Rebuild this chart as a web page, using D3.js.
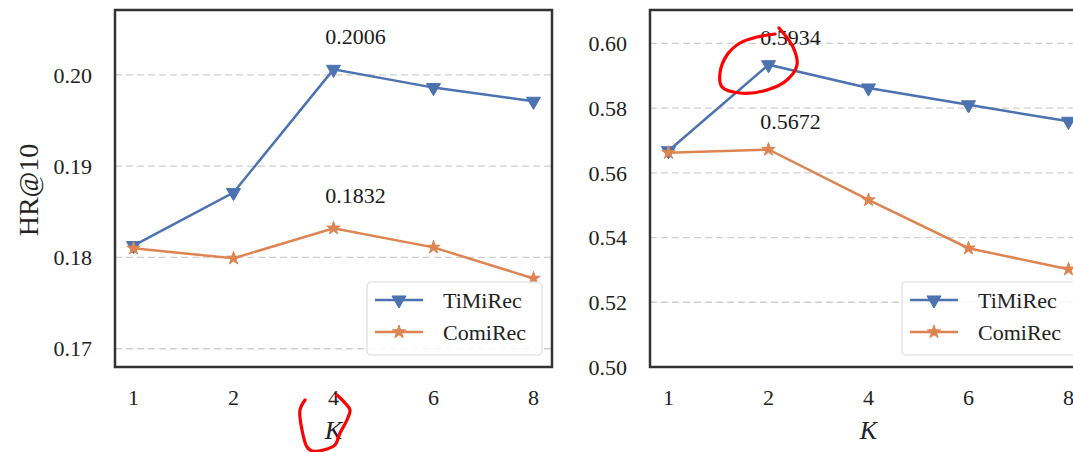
<!DOCTYPE html>
<html>
<head>
<meta charset="utf-8">
<script src="https://cdn.jsdelivr.net/npm/d3@7"></script>
<style>
  body { margin: 0; background: #fff; }
  svg { display: block; }
</style>
</head>
<body>
<svg id="chart" width="1073" height="452"></svg>
<script>
// values
const kValues = ["1", "2", "4", "6", "8"]
const seriesNames = ["TiMiRec", "ComiRec"]

const leftTiMiRec = [0.1813, 0.1871, 0.2006, 0.1986, 0.1971]
const leftComiRec = [0.1810, 0.1799, 0.1832, 0.1811, 0.1777]
const leftTicks = [0.17, 0.18, 0.19, 0.20]
const leftLabels = [{series: 0, k: "4", text: "0.2006"}, {series: 1, k: "4", text: "0.1832"}]

const rightTiMiRec = [0.5668, 0.5934, 0.5862, 0.5810, 0.5759]
const rightComiRec = [0.5662, 0.5672, 0.5516, 0.5367, 0.5302]
const rightTicks = [0.50, 0.52, 0.54, 0.56, 0.58, 0.60]
const rightLabels = [{series: 0, k: "2", text: "0.5934"}, {series: 1, k: "2", text: "0.5672"}]

const colors = ["#4c72b0", "#dd8452"]
const serif = "'Liberation Serif', 'Times New Roman', serif"

const svg = d3.select("#chart")

const panels = [
    {left: 115, domain: [0.168, 0.2071], ticks: leftTicks, series: [leftTiMiRec, leftComiRec],
     labels: leftLabels, labelOffset: 25, ylabel: "HR@10"},
    {left: 650, domain: [0.50, 0.6103], ticks: rightTicks, series: [rightTiMiRec, rightComiRec],
     labels: rightLabels, labelOffset: 20, ylabel: null}
]

const frameTop = 10, frameBottom = 367, panelWidth = 437

const triangleDown = d3.symbol().type(d3.symbolTriangle).size(85)
const star = d3.symbol().type(d3.symbolStar).size(55)

panels.forEach(p => {
    const xScale = d3.scalePoint().domain(kValues).range([p.left, p.left + panelWidth]).padding(0.185)
    const yScale = d3.scaleLinear().domain(p.domain).range([frameBottom, frameTop])

    const g = svg.append("g")

    // grid
    g.selectAll(".grid")
        .data(p.ticks)
        .enter().append("line")
        .attr("x1", p.left).attr("x2", p.left + panelWidth)
        .attr("y1", d => yScale(d)).attr("y2", d => yScale(d))
        .style("stroke", "#cfcfcf")
        .style("stroke-width", 1.3)
        .style("stroke-dasharray", "7,4")

    // lines + markers
    p.series.forEach((vals, si) => {
        const pts = vals.map((v, i) => ({k: kValues[i], v: v}))
        const line = d3.line().x(d => xScale(d.k)).y(d => yScale(d.v))
        g.append("path")
            .datum(pts)
            .attr("d", line)
            .style("fill", "none")
            .style("stroke", colors[si])
            .style("stroke-width", 2.5)
        g.selectAll(".m" + si)
            .data(pts)
            .enter().append("path")
            .attr("transform", d => si == 0
                ? `translate(${xScale(d.k)},${yScale(d.v)}) rotate(180)`
                : `translate(${xScale(d.k)},${yScale(d.v)})`)
            .attr("d", si == 0 ? triangleDown : star)
            .style("fill", colors[si])
            .style("stroke", colors[si])
            .style("stroke-width", 1)
    })

    // value labels
    p.labels.forEach(l => {
        const v = p.series[l.series][kValues.indexOf(l.k)]
        g.append("text")
            .attr("x", xScale(l.k) + 22)
            .attr("y", yScale(v) - p.labelOffset)
            .attr("text-anchor", "middle")
            .style("font-family", serif)
            .style("font-size", "22px")
            .style("fill", "#1a1a1a")
            .text(l.text)
    })

    // y tick labels
    g.selectAll(".ytick")
        .data(p.ticks)
        .enter().append("text")
        .attr("x", p.left - 23)
        .attr("y", d => yScale(d))
        .attr("dy", "0.35em")
        .attr("text-anchor", "end")
        .style("font-family", serif)
        .style("font-size", "22px")
        .style("fill", "#222")
        .text(d => d3.format(".2f")(d))

    // x tick labels
    g.selectAll(".xtick")
        .data(kValues)
        .enter().append("text")
        .attr("x", d => xScale(d))
        .attr("y", 405)
        .attr("text-anchor", "middle")
        .style("font-family", serif)
        .style("font-size", "22px")
        .style("fill", "#222")
        .text(d => d)

    // x label
    g.append("text")
        .attr("x", xScale("4"))
        .attr("y", 439)
        .attr("text-anchor", "middle")
        .style("font-family", serif)
        .style("font-style", "italic")
        .style("font-size", "26px")
        .style("fill", "#222")
        .text("K")

    if (p.ylabel) {
        g.append("text")
            .attr("text-anchor", "middle")
            .attr("transform", "translate(38,190)rotate(-90)")
            .style("font-family", serif)
            .style("font-size", "28px")
            .style("fill", "#222")
            .text(p.ylabel)
    }

    // legend
    const lg = g.append("g").attr("transform", `translate(${p.left + 252},282)`)
    lg.append("rect")
        .attr("width", 175).attr("height", 73)
        .attr("rx", 4)
        .style("fill", "rgba(255,255,255,0.85)")
        .style("stroke", "#dcdcdc")
        .style("stroke-width", 1.2)
    seriesNames.forEach((name, si) => {
        const yy = 18 + si * 32
        lg.append("line")
            .attr("x1", 8).attr("x2", 56)
            .attr("y1", yy).attr("y2", yy)
            .style("stroke", colors[si])
            .style("stroke-width", 2.5)
        lg.append("path")
            .attr("transform", si == 0 ? `translate(32,${yy}) rotate(180)` : `translate(32,${yy})`)
            .attr("d", si == 0 ? triangleDown : star)
            .style("fill", colors[si])
            .style("stroke", colors[si])
        lg.append("text")
            .attr("x", 76).attr("y", yy)
            .attr("dy", "0.35em")
            .style("font-family", serif)
            .style("font-size", "22px")
            .style("fill", "#222")
            .text(name)
    })

    // frame
    g.append("rect")
        .attr("x", p.left).attr("y", frameTop)
        .attr("width", panelWidth).attr("height", frameBottom - frameTop)
        .style("fill", "none")
        .style("stroke", "#333")
        .style("stroke-width", 2.5)
})

// red pen marks drawn over the figure
const penMarks = [
    [[305, 400], [300, 410], [302, 430], [307, 447], [312, 451], [327, 449], [335, 445],
     [340, 433], [347, 420], [350, 410], [345, 403], [337, 395]],
    [[779, 28], [793, 47], [797, 65], [787, 80], [767, 90], [740, 93], [722, 87], [720, 73],
     [727, 55], [740, 43], [757, 37], [775, 34]]
]
const pen = d3.line().curve(d3.curveCatmullRom)
penMarks.forEach(m => {
    svg.append("path")
        .attr("d", pen(m))
        .style("fill", "none")
        .style("stroke", "#f00")
        .style("stroke-width", 3.2)
        .style("stroke-linecap", "round")
})
</script>
</body>
</html>
